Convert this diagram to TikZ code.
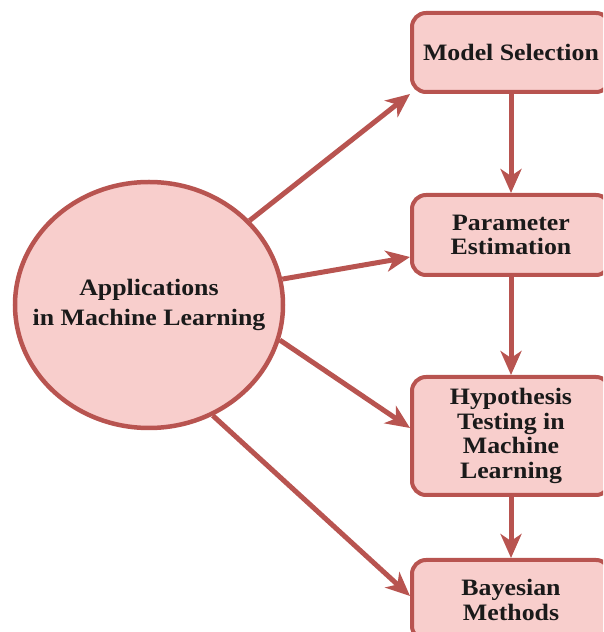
\documentclass[tikz,border=0pt]{standalone}
\usepackage{fontspec}
\newfontfamily\diafont[FakeStretch=1.1]{Liberation Serif}
\usepackage{tikz}
\usetikzlibrary{arrows.meta,shapes.geometric,calc}
\definecolor{edge}{HTML}{B85450}
\definecolor{pinkfill}{HTML}{F8CECC}
\definecolor{ink}{HTML}{1A1A1A}

\begin{document}
\begin{tikzpicture}[x=1pt,y=1pt,
  blk/.style={draw=edge,fill=pinkfill,line width=4pt,rounded corners=14pt,minimum width=198pt,align=center,text=ink,font=\diafont\bfseries\fontsize{23.5}{24.5}\selectfont,inner sep=0pt},
  hub/.style={ellipse,draw=edge,fill=pinkfill,line width=4.5pt,minimum width=268pt,minimum height=246pt,align=center,text=ink,font=\diafont\bfseries\fontsize{23.5}{30}\selectfont,inner ysep=0pt,inner xsep=-25pt},
  link/.style={draw=edge,line width=5pt,-{Stealth[length=24pt,width=21pt,inset=7pt]}}]
\useasboundingbox (0,0) rectangle (603,632);
\clip (0,0) rectangle (603,632);
% centre and the four steps
\node[hub] (apps) at (149,327) {Applications\\in Machine Learning};
\node[blk,minimum height=79pt] (model) at (511,579.5) {Model Selection};
\node[blk,minimum height=80pt] (param) at (511,397) {Parameter\\Estimation};
\node[blk,minimum height=118pt] (hypo) at (511,196) {Hypothesis\\Testing in\\Machine\\Learning};
\node[blk,minimum height=80pt] (bayes) at (511,32) {Bayesian\\Methods};
% chain down the right
\draw[link] (model) -- (param);
\draw[link] (param) -- (hypo);
\draw[link] (hypo) -- (bayes);
% fan out of the centre
\draw[link] (apps.40) -- (model.south west);
\draw[link] (apps.11) -- ($(param.west)+(0,-22)$);
\draw[link] (apps.-15) -- ($(hypo.west)+(0,8)$);
\draw[link] (apps.-60) -- ($(bayes.west)+(0,4)$);
\end{tikzpicture}
\end{document}
